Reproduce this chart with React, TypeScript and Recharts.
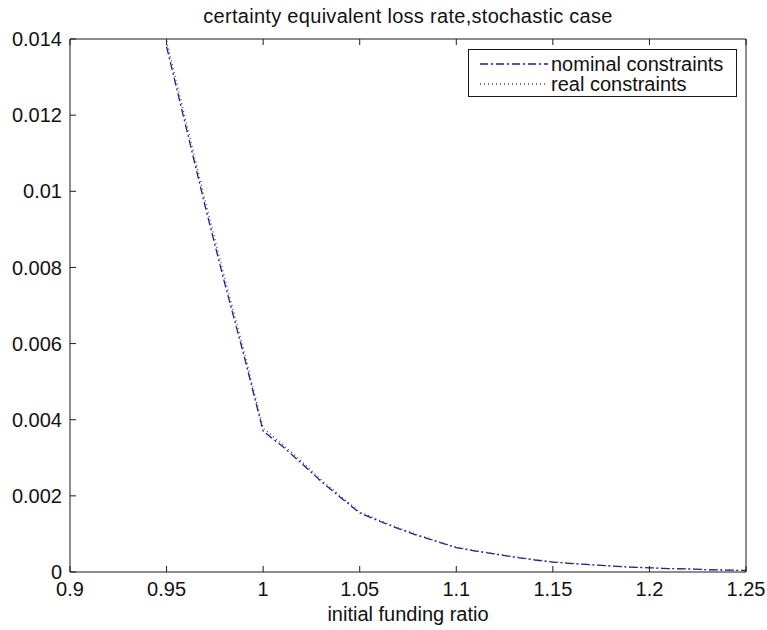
import React from 'react';
import { LineChart, Line, XAxis, YAxis } from 'recharts';

const fundingRatio = [
  0.95, 0.96, 0.97, 0.98, 0.99, 1.0, 1.01, 1.02, 1.03, 1.04, 1.05, 1.06, 1.07, 1.08, 1.09, 1.1,
  1.11, 1.12, 1.13, 1.14, 1.15, 1.16, 1.17, 1.18, 1.19, 1.2, 1.21, 1.22, 1.23, 1.24, 1.25,
];
const nominalLoss = [
  0.0138, 0.0117, 0.0096, 0.0076, 0.0057, 0.0037, 0.0033, 0.00285, 0.00238, 0.00196, 0.00155,
  0.00134, 0.00114, 0.00096, 0.0008, 0.00064, 0.00055, 0.00047, 0.00039, 0.00032, 0.00026,
  0.00022, 0.00019, 0.00016, 0.00013, 0.00011, 0.00009, 0.00008, 0.00006, 0.00005, 0.00004,
];
const realLoss = [
  0.01395, 0.01185, 0.00975, 0.00775, 0.00582, 0.00378, 0.00336, 0.0029, 0.00242, 0.002, 0.00158,
  0.00136, 0.00116, 0.00098, 0.00081, 0.00065, 0.00056, 0.00048, 0.0004, 0.00033, 0.00027,
  0.00023, 0.00019, 0.00016, 0.00013, 0.00011, 0.00009, 0.00008, 0.00006, 0.00005, 0.00004,
];
const xTicks = [0.9, 0.95, 1, 1.05, 1.1, 1.15, 1.2, 1.25];
const yTicks = [0, 0.002, 0.004, 0.006, 0.008, 0.01, 0.012, 0.014];

const data = fundingRatio.map((x, i) => ({ x, nominal: nominalLoss[i], real: realLoss[i] }));

const FONT = '"Liberation Sans", Arial, Helvetica, sans-serif';
const AXIS = '#1a1a1a';

const series = [
  { key: 'nominal', name: 'nominal constraints', color: '#1c1c9c', dash: '8 3 2 3' },
  { key: 'real', name: 'real constraints', color: '#45455e', dash: '1 3' },
];

function LegendBox() {
  return (
    <div
      style={{
        position: 'absolute',
        top: 49,
        left: 468,
        width: 267,
        height: 46,
        border: `1px solid ${AXIS}`,
        background: '#fff',
        fontFamily: FONT,
        fontSize: 20,
        color: '#111',
        boxSizing: 'content-box',
      }}
    >
      {series.map((s, i) => (
        <div key={s.key} style={{ display: 'flex', alignItems: 'center', height: 20, marginTop: i === 0 ? 4 : 0 }}>
          <svg width={82} height={20} style={{ flex: 'none' }}>
            <line x1={11} x2={79} y1={10} y2={10} stroke={s.color} strokeDasharray={s.dash} strokeWidth={1.3} />
          </svg>
          <span style={{ lineHeight: '20px', whiteSpace: 'nowrap' }}>{s.name}</span>
        </div>
      ))}
    </div>
  );
}

export default function App() {
  const fmt = (v: number) => String(v);
  const blank = () => '';
  const tickStyle = { fontSize: 20, fill: '#111', fontFamily: FONT };

  return (
    <div style={{ position: 'absolute', left: 0, top: 0, width: 767, height: 630, background: '#fff' }}>
      <div
        style={{
          position: 'absolute',
          top: 4,
          left: 70,
          width: 676,
          textAlign: 'center',
          fontFamily: FONT,
          fontSize: 20,
          letterSpacing: 0.3,
          lineHeight: '24px',
          color: '#111',
        }}
      >
        certainty equivalent loss rate,stochastic case
      </div>
      <LineChart width={767} height={630} data={data} margin={{ top: 38, right: 20, left: 0, bottom: 0 }}>
        <XAxis
          dataKey="x"
          type="number"
          domain={[0.9, 1.25]}
          ticks={xTicks}
          interval={0}
          tickFormatter={fmt}
          height={58}
          tickSize={-6}
          tickMargin={16}
          tick={tickStyle}
          stroke={AXIS}
          label={{ value: 'initial funding ratio', position: 'insideBottom', offset: 9, fontSize: 20, fill: '#111', fontFamily: FONT }}
        />
        <XAxis
          xAxisId="top"
          dataKey="x"
          type="number"
          orientation="top"
          domain={[0.9, 1.25]}
          ticks={xTicks}
          interval={0}
          tickFormatter={blank}
          height={1}
          tickSize={-6}
          stroke={AXIS}
        />
        <YAxis
          type="number"
          domain={[0, 0.014]}
          ticks={yTicks}
          interval={0}
          tickFormatter={fmt}
          width={70}
          tickSize={-6}
          tickMargin={14}
          tick={tickStyle}
          stroke={AXIS}
          allowDataOverflow
        />
        <YAxis
          yAxisId="right"
          type="number"
          orientation="right"
          domain={[0, 0.014]}
          ticks={yTicks}
          interval={0}
          tickFormatter={blank}
          width={1}
          tickSize={-6}
          stroke={AXIS}
        />
        {series.map((s) => (
          <Line
            key={s.key}
            type="linear"
            dataKey={s.key}
            name={s.name}
            stroke={s.color}
            strokeWidth={1.3}
            strokeDasharray={s.dash}
            dot={false}
            activeDot={false}
            isAnimationActive={false}
          />
        ))}
      </LineChart>
      <LegendBox />
    </div>
  );
}
